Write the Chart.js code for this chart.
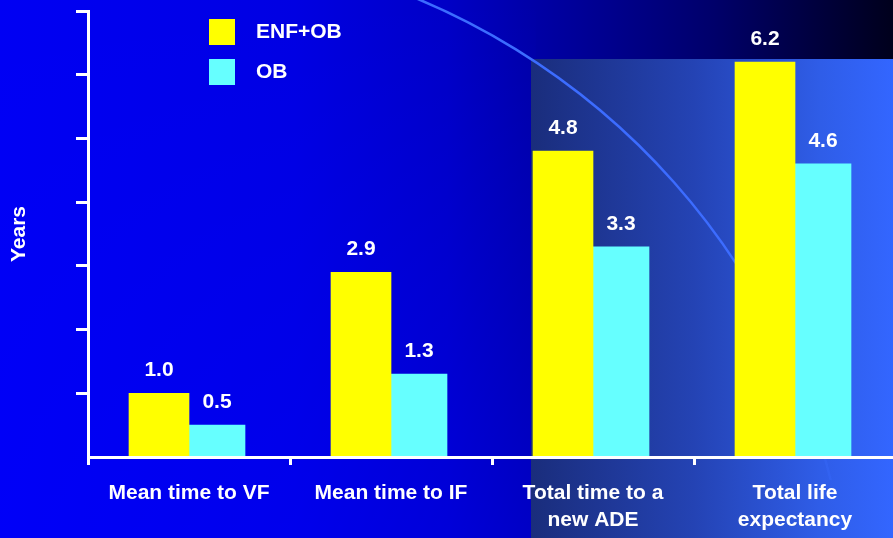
<!DOCTYPE html>
<html>
<head>
<meta charset="utf-8">
<script src="https://cdn.jsdelivr.net/npm/chart.js@4/dist/chart.umd.min.js"></script>
<style>
  html, body { margin: 0; padding: 0; background: #0000f0; overflow: hidden; }
  #wrap { width: 893px; height: 538px; overflow: hidden; }
  canvas { display: block; }
</style>
</head>
<body>
<div id="wrap"><canvas id="chart" width="896" height="538"></canvas></div>
<script>
// Outcome categories (multi-line where the label wraps)
const categories = [
  'Mean time to VF',
  'Mean time to IF',
  ['Total time to a', 'new ADE'],
  ['Total life', 'expectancy']
];
const seriesNames = ['ENF+OB', 'OB'];
// Years per outcome
const enfObYears = [1.0, 2.9, 4.8, 6.2];
const obYears = [0.5, 1.3, 3.3, 4.6];
// Tick marks on the value axis (unlabelled)
const yTickValues = [1, 2, 3, 4, 5, 6, 7];
const yMax = 7;

const FONT = "'Liberation Sans', Arial, Helvetica, sans-serif";
const YELLOW = '#FFFF00';
const CYAN = '#66FFFF';

// Slide-style backdrop: blue-to-navy wash, lighter panel on the right and a sweeping arc
const backdrop = {
  id: 'backdrop',
  beforeDraw(chart) {
    const { ctx, height: H } = chart;
    const W = 893;
    ctx.save();
    const g = ctx.createLinearGradient(0, 0, W, 0);
    g.addColorStop(0, '#0000F4');
    g.addColorStop(0.33, '#0000E2');
    g.addColorStop(0.5, '#0000C6');
    g.addColorStop(0.6, '#0000A6');
    g.addColorStop(0.8, '#00006A');
    g.addColorStop(1, '#00001C');
    ctx.fillStyle = g;
    ctx.fillRect(0, 0, chart.width, H);

    // soft brightening toward the bottom on the left side
    const v = ctx.createLinearGradient(0, 0, 0, H);
    v.addColorStop(0, 'rgba(0,0,255,0)');
    v.addColorStop(1, 'rgba(0,0,255,0.35)');
    ctx.fillStyle = v;
    ctx.fillRect(0, 0, W * 0.6, H);

    // right-hand panel
    const px = 531, py = 59;
    const pg = ctx.createLinearGradient(px, 0, W, 0);
    pg.addColorStop(0, '#1A2D7C');
    pg.addColorStop(0.45, '#2443B4');
    pg.addColorStop(0.8, '#2F5DE8');
    pg.addColorStop(1, '#3366FF');
    ctx.fillStyle = pg;
    ctx.fillRect(px, py, chart.width - px, H - py);

    // arc
    const cx = 145.5, cy = 650.4, r = 706;
    ctx.lineWidth = 2.5;
    ctx.strokeStyle = '#3C6CFF';
    ctx.save();
    ctx.beginPath();
    ctx.rect(0, 0, chart.width, 458);
    ctx.clip();
    ctx.beginPath();
    ctx.arc(cx, cy, r, -1.3, -0.15);
    ctx.stroke();
    ctx.restore();
    ctx.save();
    ctx.beginPath();
    ctx.rect(0, 458, chart.width, 22);
    ctx.clip();
    ctx.globalAlpha = 0.3;
    ctx.beginPath();
    ctx.arc(cx, cy, r, -1.3, -0.15);
    ctx.stroke();
    ctx.restore();
    ctx.restore();
  }
};

// Values printed above each bar
const valueLabels = {
  id: 'valueLabels',
  afterDatasetsDraw(chart) {
    const { ctx } = chart;
    ctx.save();
    ctx.fillStyle = '#FFFFFF';
    ctx.font = 'bold 21px ' + FONT;
    ctx.textAlign = 'center';
    ctx.textBaseline = 'middle';
    chart.data.datasets.forEach((ds, di) => {
      const meta = chart.getDatasetMeta(di);
      meta.data.forEach((bar, i) => {
        ctx.fillText(ds.data[i].toFixed(1), bar.x, bar.y - 23);
      });
    });
    ctx.restore();
  }
};

// Legend drawn inside the plot, top left
const insetLegend = {
  id: 'insetLegend',
  afterDraw(chart) {
    const { ctx } = chart;
    ctx.save();
    ctx.font = 'bold 21px ' + FONT;
    ctx.textAlign = 'left';
    ctx.textBaseline = 'middle';
    chart.data.datasets.forEach((ds, i) => {
      const y = 19 + i * 40;
      ctx.fillStyle = ds.backgroundColor;
      ctx.fillRect(209, y, 26, 26);
      ctx.fillStyle = '#FFFFFF';
      ctx.fillText(ds.label, 256, y + 13);
    });
    ctx.restore();
  }
};

new Chart(document.getElementById('chart'), {
  type: 'bar',
  data: {
    labels: categories,
    datasets: [
      { label: seriesNames[0], data: enfObYears, backgroundColor: YELLOW, barThickness: 60, borderWidth: 0 },
      { label: seriesNames[1], data: obYears, backgroundColor: CYAN, barThickness: 56, borderWidth: 0 }
    ]
  },
  options: {
    responsive: false,
    devicePixelRatio: 1,
    animation: false,
    layout: { padding: { top: 11, right: 0, left: 0, bottom: 0 } },
    plugins: {
      legend: { display: false },
      tooltip: { enabled: false }
    },
    scales: {
      x: {
        grid: { offset: true, drawOnChartArea: false, drawTicks: true, tickLength: 8, color: '#FFFFFF', lineWidth: 3 },
        border: { display: true, color: '#FFFFFF', width: 3, z: 1 },
        ticks: {
          color: '#FFFFFF',
          font: { family: FONT, size: 21, weight: 'bold', lineHeight: '27px' },
          padding: 15,
          maxRotation: 0,
          autoSkip: false
        },
        afterFit(scale) { scale.height = 81; }
      },
      y: {
        min: 0,
        max: yMax,
        afterBuildTicks(scale) { scale.ticks = yTickValues.map(v => ({ value: v })); },
        ticks: { display: false },
        grid: { drawOnChartArea: false, drawTicks: true, tickLength: 12, color: '#FFFFFF', lineWidth: 3 },
        border: { display: true, color: '#FFFFFF', width: 3, z: 1 },
        title: {
          display: true,
          text: 'Years',
          color: '#FFFFFF',
          font: { family: FONT, size: 21, weight: 'bold' },
          padding: { top: 7, bottom: 0 }
        },
        afterFit(scale) { scale.width = 88; }
      }
    }
  },
  plugins: [backdrop, valueLabels, insetLegend]
});
</script>
</body>
</html>
